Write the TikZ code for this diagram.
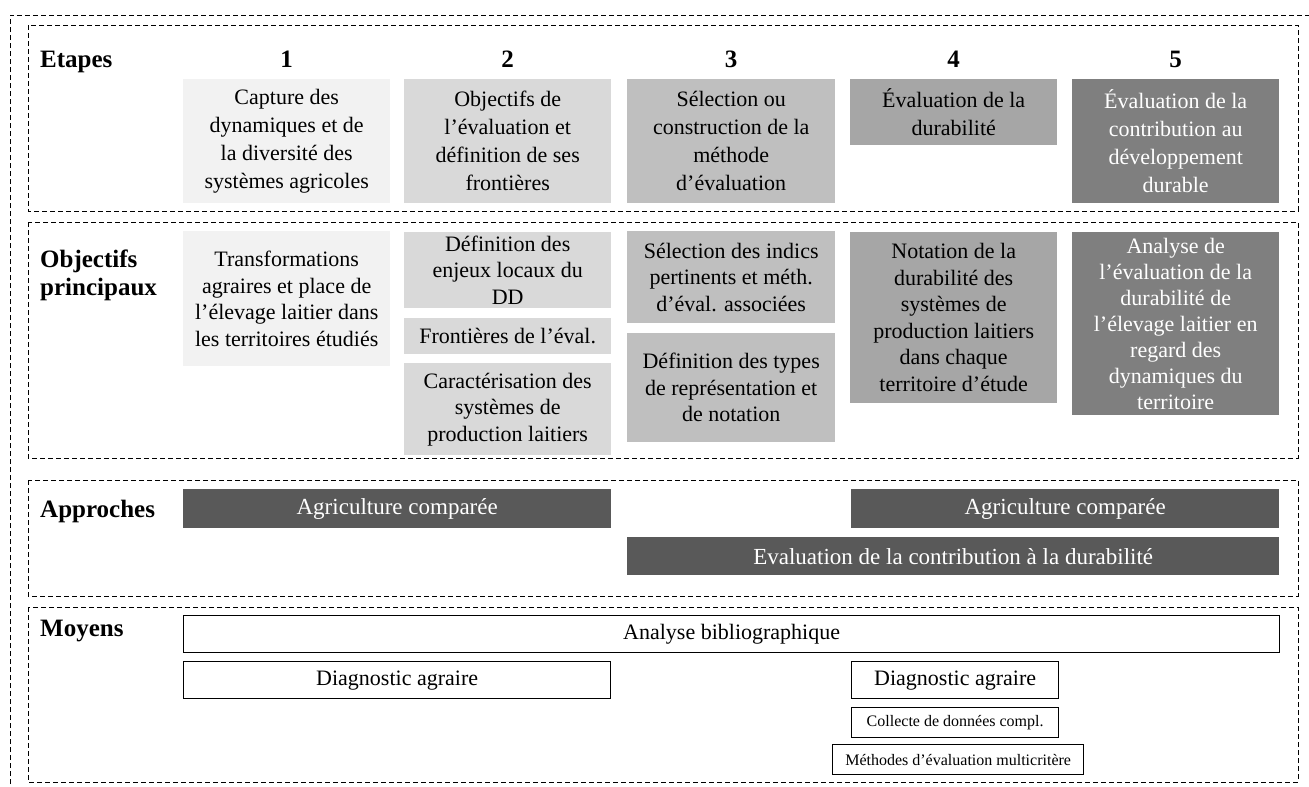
\documentclass[tikz,border=0pt]{standalone}
\usepackage{fontspec}
\setmainfont{Liberation Serif}
\definecolor{gA}{HTML}{F2F2F2}
\definecolor{gB}{HTML}{D9D9D9}
\definecolor{gC}{HTML}{BFBFBF}
\definecolor{gD}{HTML}{A6A6A6}
\definecolor{gE}{HTML}{7F7F7F}
\definecolor{gF}{HTML}{595959}
\begin{document}
\begin{tikzpicture}[x=1pt,y=-1pt,
  sect/.style={draw=black, dash pattern=on 5pt off 3pt, line width=0.9pt},
  lab/.style={anchor=base west, font=\fontsize{25}{28}\selectfont\bfseries, inner sep=0pt},
  num/.style={anchor=base, font=\fontsize{25}{28}\selectfont\bfseries, inner sep=0pt},
  gbox/.style={anchor=north west, inner sep=1pt, align=center, draw=none,
    font=\fontsize{22}{28}\selectfont, text=black},
  obox/.style={gbox, font=\fontsize{22}{26.5}\selectfont},
  bar/.style={anchor=north west, inner sep=1pt, fill=gF, text=white,
    font=\fontsize{23}{28}\selectfont},
  wbox/.style={anchor=north west, inner sep=1pt, fill=white, draw=black, line width=1.3pt,
    font=\fontsize{22}{28}\selectfont},
  sbox/.style={wbox, font=\fontsize{16}{20}\selectfont}
]
\useasboundingbox (0,0) rectangle (1309,787);
% outer frame
\draw[sect] (10,800) -- (10,15) -- (1320,15);
% sections
\draw[sect] (28,25) rectangle (1298,211);
\draw[sect] (28,222) rectangle (1298,458);
\draw[sect] (28,480) rectangle (1298,596);
\draw[sect] (28,607) rectangle (1298,782);

% Etapes
\node[lab] (lE) at (40,67) {Etapes};
\node[num] (n1) at (286.5,67) {1};
\node[num] (n2) at (507.5,67) {2};
\node[num] (n3) at (731,67) {3};
\node[num] (n4) at (953.5,67) {4};
\node[num] (n5) at (1175.5,67) {5};

\node[gbox, fill=gA, minimum width=207pt, minimum height=124pt] (e1) at (183,79)
  {Capture des\\dynamiques et de\\la diversité des\\systèmes agricoles};
\node[gbox, fill=gB, minimum width=207pt, minimum height=124pt] (e2) at (404,79)
  {Objectifs de\\l’évaluation et\\définition de ses\\frontières};
\node[gbox, fill=gC, minimum width=208pt, minimum height=124pt] (e3) at (627,79)
  {Sélection ou\\construction de la\\méthode\\d’évaluation};
\node[gbox, fill=gD, minimum width=207pt, minimum height=66pt] (e4) at (850,79)
  {Évaluation de la\\durabilité};
\node[gbox, fill=gE, text=white, minimum width=207pt, minimum height=124pt] (e5) at (1072,79)
  {Évaluation de la\\contribution au\\développement\\durable};

% Objectifs principaux
\node[lab] (lO1) at (40,267) {Objectifs};
\node[lab] (lO2) at (40,295) {principaux};

\node[obox, fill=gA, minimum width=207pt, minimum height=135pt] (o1) at (183,231)
  {Transformations\\agraires et place de\\l’élevage laitier dans\\les territoires étudiés};
\node[obox, fill=gB, minimum width=207pt, minimum height=76pt] (o2a) at (404,232)
  {Définition des\\enjeux locaux du\\DD};
\node[obox, fill=gB, minimum width=207pt, minimum height=36pt] (o2b) at (404,318)
  {Frontières de l’éval.};
\node[obox, fill=gB, minimum width=207pt, minimum height=92pt] (o2c) at (404,363)
  {Caractérisation des\\systèmes de\\production laitiers};
\node[obox, fill=gC, minimum width=208pt, minimum height=92pt] (o3a) at (627,231)
  {Sélection des indics\\pertinents et méth.\\d’éval. associées};
\node[obox, fill=gC, minimum width=208pt, minimum height=109pt] (o3b) at (627,333)
  {Définition des types\\de représentation et\\de notation};
\node[obox, fill=gD, minimum width=207pt, minimum height=171pt] (o4) at (850,232)
  {Notation de la\\durabilité des\\systèmes de\\production laitiers\\dans chaque\\territoire d’étude};
\node[obox, fill=gE, text=white, font=\fontsize{22}{26}\selectfont, minimum width=207pt, minimum height=183pt] (o5) at (1072,232)
  {Analyse de\\l’évaluation de la\\durabilité de\\l’élevage laitier en\\regard des\\dynamiques du\\territoire};

% Approches
\node[lab] (lA) at (40,517) {Approches};
\node[bar, minimum width=428pt, minimum height=39pt] (a1) at (183,489) {Agriculture comparée};
\node[bar, minimum width=428pt, minimum height=39pt] (a2) at (851,489) {Agriculture comparée};
\node[bar, minimum width=652pt, minimum height=38pt] (a3) at (627,537) {Evaluation de la contribution à la durabilité};

% Moyens
\node[lab] (lM) at (40,636) {Moyens};
\node[wbox, minimum width=1096pt, minimum height=37pt] (m1) at (183,615) {Analyse bibliographique};
\node[wbox, minimum width=427pt, minimum height=37pt] (m2) at (183,661) {Diagnostic agraire};
\node[wbox, minimum width=207pt, minimum height=37pt] (m3) at (851,661) {Diagnostic agraire};
\node[sbox, minimum width=207pt, minimum height=30pt] (m4) at (851,707) {Collecte de données compl.};
\node[sbox, minimum width=251pt, minimum height=30pt] (m5) at (832,744) {Méthodes d’évaluation multicritère};
\end{tikzpicture}
\end{document}
